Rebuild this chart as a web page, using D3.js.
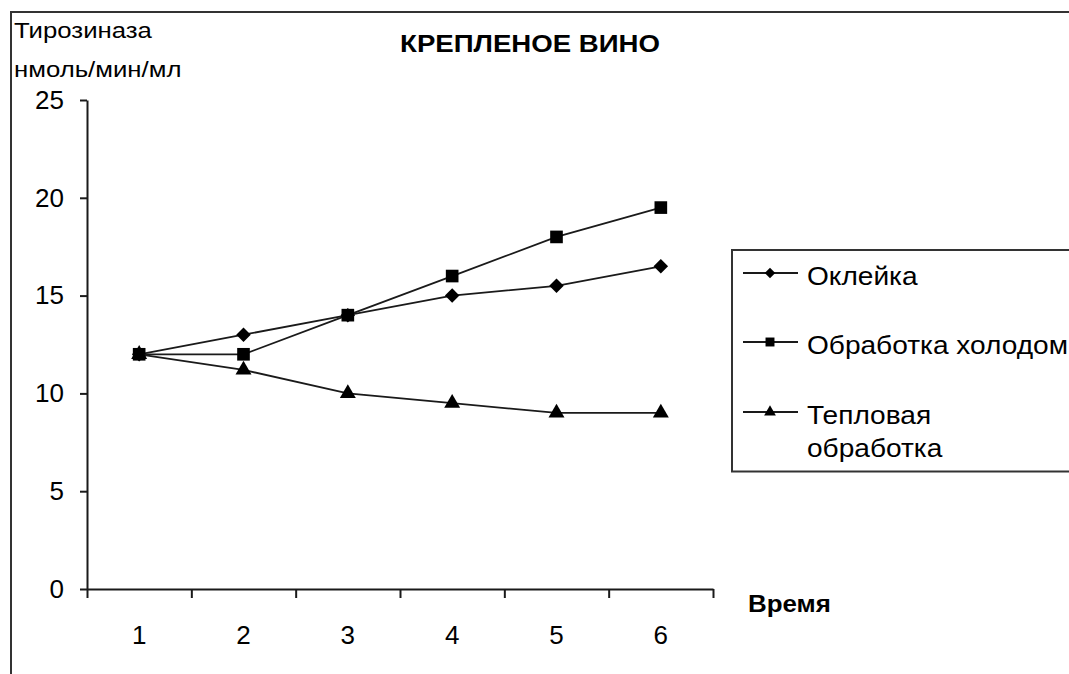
<!DOCTYPE html>
<html>
<head>
<meta charset="utf-8">
<script src="https://cdn.jsdelivr.net/npm/d3@7"></script>
<style>
  html, body { margin: 0; padding: 0; background: #fff; }
  svg { display: block; }
  text { font-family: "Liberation Sans", Arial, sans-serif; fill: #000; }
</style>
</head>
<body>
<svg id="chart" width="1069" height="674"></svg>
<script>
// ---- data ----
const categories = ["1", "2", "3", "4", "5", "6"];
const seriesNames = ["Оклейка", "Обработка холодом", "Тепловая обработка"];
const okleyka = [12, 13, 14, 15, 15.5, 16.5];
const kholod = [12, 12, 14, 16, 18, 19.5];
const teplovaya = [12, 11.2, 10, 9.5, 9, 9];
const yTicks = [0, 5, 10, 15, 20, 25];
const titleText = "КРЕПЛЕНОЕ ВИНО";
const yTitleLines = ["Тирозиназа", "нмоль/мин/мл"];
const xTitleText = "Время";

(function () {
// square diamond (rotated square) symbol
const squareDiamond = {
  draw(ctx, size) {
    const r = Math.sqrt(size) / 2;
    ctx.moveTo(0, -r); ctx.lineTo(r, 0); ctx.lineTo(0, r); ctx.lineTo(-r, 0); ctx.closePath();
  }
};

const series = [
  { name: seriesNames[0], values: okleyka, symbol: squareDiamond, size: 210, lsize: 110, legendLines: ["Оклейка"] },
  { name: seriesNames[1], values: kholod, symbol: d3.symbolSquare, size: 160, lsize: 80, legendLines: ["Обработка холодом"] },
  { name: seriesNames[2], values: teplovaya, symbol: d3.symbolTriangle, size: 110, lsize: 60, legendLines: ["Тепловая", "обработка"] }
];

const svg = d3.select("#chart");
const ink = "#1a1a1a";

function addText(g, x, y, str, size, sx, opts) {
  const t = g.append("text")
    .attr("transform", `translate(${x},${y}) scale(${sx},1)`)
    .style("font-size", size + "px")
    .text(str);
  if (opts && opts.bold) t.style("font-weight", "bold");
  if (opts && opts.anchor) t.attr("text-anchor", opts.anchor);
  return t;
}

// outer chart border (left + top visible)
svg.append("path")
  .attr("d", "M11,674 L11,12 L1075,12")
  .attr("fill", "none").attr("stroke", "#333").attr("stroke-width", 2);

const pLeft = 87, pRight = 713, pTop = 100, pBottom = 589;

const x = d3.scaleBand().domain(categories).range([pLeft, pRight]);
const xb = d3.scaleLinear().domain([0, categories.length]).range([pLeft, pRight]);
const y = d3.scaleLinear().domain([0, 25]).range([pBottom, pTop]);

// y axis
const gy = svg.append("g").attr("transform", `translate(${pLeft},0)`)
  .call(d3.axisLeft(y).tickValues(yTicks).tickSize(7).tickPadding(16).tickSizeOuter(0));
gy.select(".domain").attr("stroke", ink).attr("stroke-width", 2);
gy.selectAll(".tick line").attr("stroke", ink).attr("stroke-width", 2);
gy.selectAll(".tick text").style("font-size", "26px").attr("fill", "#000");

// x axis: tick marks at category boundaries
const gx = svg.append("g").attr("transform", `translate(0,${pBottom})`)
  .call(d3.axisBottom(xb).tickValues(d3.range(0, categories.length + 1)).tickSize(9).tickFormat("").tickSizeOuter(0));
gx.select(".domain").attr("stroke", ink).attr("stroke-width", 2);
gx.selectAll(".tick line").attr("stroke", ink).attr("stroke-width", 2);

// x labels centered in bands
const gxl = svg.append("g").attr("transform", `translate(0,${pBottom})`)
  .call(d3.axisBottom(x).tickSize(0).tickPadding(37));
gxl.select(".domain").remove();
gxl.selectAll(".tick text").style("font-size", "26px").attr("fill", "#000");

// lines and markers
const line = d3.line()
  .x((d, i) => x(categories[i]) + x.bandwidth() / 2)
  .y(d => y(d));

series.forEach(s => {
  svg.append("path")
    .datum(s.values)
    .attr("d", line)
    .attr("fill", "none")
    .attr("stroke", ink)
    .attr("stroke-width", 1.8);
  svg.selectAll(null)
    .data(s.values)
    .enter().append("path")
    .attr("d", d3.symbol().type(s.symbol).size(s.size))
    .attr("transform", (d, i) => `translate(${x(categories[i]) + x.bandwidth() / 2},${y(d)})`)
    .attr("fill", "#000");
});

// title
addText(svg, 530, 52, titleText, 24, 1.15, { bold: true, anchor: "middle" });

// y title
yTitleLines.forEach((t, i) => addText(svg, 14, 38 + i * 39, t, 23, 1.12));

// x title
addText(svg, 748, 612, xTitleText, 24, 1.08, { bold: true });

// legend
svg.append("rect").attr("x", 732).attr("y", 250).attr("width", 360).attr("height", 221.5)
  .attr("fill", "#fff").attr("stroke", "#333").attr("stroke-width", 2);

const legendY = [273, 342, 412];
series.forEach((s, i) => {
  const ly = legendY[i];
  svg.append("line").attr("x1", 743).attr("x2", 798).attr("y1", ly).attr("y2", ly)
    .attr("stroke", ink).attr("stroke-width", 1.8);
  svg.append("path")
    .attr("d", d3.symbol().type(s.symbol).size(s.lsize))
    .attr("transform", `translate(770,${ly})`).attr("fill", "#000");
  s.legendLines.forEach((t, j) => addText(svg, 807, ly + 12 + j * 33, t, 26, 1.08));
});
})();
</script>
</body>
</html>
